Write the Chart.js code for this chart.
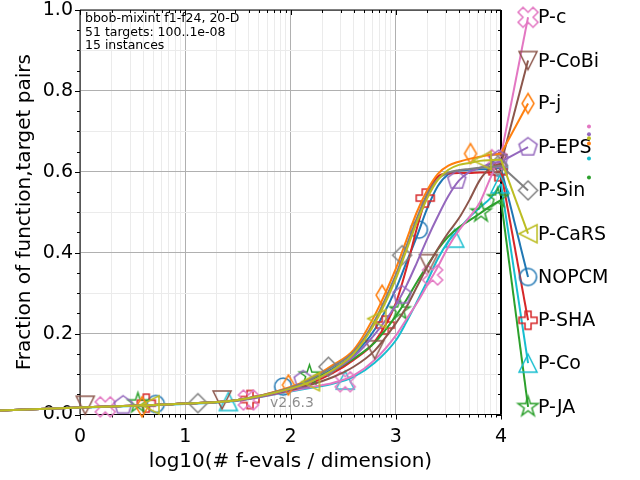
<!DOCTYPE html>
<html>
<head>
<meta charset="utf-8">
<script src="https://cdn.jsdelivr.net/npm/chart.js@4/dist/chart.umd.min.js"></script>
<style>
  html, body { margin: 0; padding: 0; background: #fff; }
</style>
</head>
<body>
<canvas id="ecdf" width="640" height="480"></canvas>
<script>
const fontFamily = "'DejaVu Sans', sans-serif";

// algorithms, in legend order (top to bottom)
const algNames = ['P-c', 'P-CoBi', 'P-j', 'P-EPS', 'P-Sin', 'P-CaRS', 'NOPCM', 'P-SHA', 'P-Co', 'P-JA'];
const algColors = ['#e377c2', '#8c564b', '#ff7f0e', '#9467bd', '#7f7f7f', '#bcbd22', '#1f77b4', '#d62728', '#17becf', '#2ca02c'];
const algMarkers = ['X', 'v', 'd', 'p', 'D', '<', 'o', 'P', '^', '*'];
// which one is painted on top (first = top)
const drawOrder = ['P-CaRS', 'P-Sin', 'P-EPS', 'P-j', 'P-CoBi', 'P-c', 'P-JA', 'P-Co', 'P-SHA', 'NOPCM'];

// ECDF curves: log10(# f-evals / dimension) vs fraction
const curveX = [-0.76, 0, 1, 1.5, 2, 2.2, 2.4, 2.6, 2.8, 3.0, 3.1, 3.2, 3.3, 3.4, 3.5, 3.6, 3.7, 3.8, 3.9, 4.0];
const yPc    = [0.010, 0.017, 0.027, 0.035, 0.058, 0.068, 0.078, 0.097, 0.135, 0.195, 0.235, 0.275, 0.320, 0.365, 0.415, 0.455, 0.488, 0.525, 0.585, 0.640];
const yCoBi  = [0.010, 0.017, 0.027, 0.035, 0.060, 0.074, 0.092, 0.118, 0.158, 0.225, 0.265, 0.315, 0.365, 0.410, 0.450, 0.485, 0.530, 0.580, 0.610, 0.620];
const yJ     = [0.010, 0.017, 0.027, 0.036, 0.068, 0.090, 0.122, 0.160, 0.245, 0.360, 0.430, 0.500, 0.555, 0.595, 0.615, 0.625, 0.632, 0.637, 0.642, 0.645];
const yEPS   = [0.010, 0.017, 0.027, 0.035, 0.063, 0.082, 0.108, 0.143, 0.198, 0.270, 0.318, 0.375, 0.435, 0.490, 0.540, 0.578, 0.600, 0.610, 0.620, 0.625];
const ySin   = [0.010, 0.017, 0.027, 0.036, 0.066, 0.088, 0.118, 0.155, 0.232, 0.345, 0.415, 0.485, 0.545, 0.582, 0.598, 0.604, 0.607, 0.610, 0.612, 0.615];
const yCaRS  = [0.010, 0.017, 0.027, 0.036, 0.064, 0.082, 0.110, 0.150, 0.225, 0.335, 0.405, 0.475, 0.535, 0.580, 0.605, 0.617, 0.622, 0.627, 0.629, 0.630];
const yNOPCM = [0.010, 0.017, 0.027, 0.036, 0.066, 0.085, 0.113, 0.148, 0.210, 0.310, 0.375, 0.440, 0.510, 0.565, 0.594, 0.603, 0.605, 0.606, 0.607, 0.610];
const ySHA   = [0.010, 0.017, 0.027, 0.036, 0.062, 0.078, 0.102, 0.135, 0.180, 0.275, 0.360, 0.460, 0.545, 0.588, 0.596, 0.597, 0.597, 0.598, 0.598, 0.600];
const yCo    = [0.010, 0.017, 0.026, 0.034, 0.057, 0.066, 0.076, 0.093, 0.128, 0.183, 0.228, 0.278, 0.330, 0.385, 0.428, 0.458, 0.488, 0.512, 0.535, 0.570];
const yJA    = [0.010, 0.017, 0.027, 0.036, 0.064, 0.088, 0.108, 0.138, 0.178, 0.243, 0.283, 0.327, 0.368, 0.408, 0.440, 0.463, 0.480, 0.497, 0.515, 0.530];
const curveY = [yPc, yCoBi, yJ, yEPS, ySin, yCaRS, yNOPCM, ySHA, yCo, yJA];

// marker positions along each curve
const markXPc    = [0.24, 1.60, 2.52, 3.35, 3.96];
const markYPc    = [0.019, 0.036, 0.081, 0.345, 0.630];
const markXCoBi  = [0.05, 1.35, 2.80, 3.31, 3.97];
const markYCoBi  = [0.023, 0.036, 0.160, 0.373, 0.620];
const markXJ     = [0.59, 1.98, 2.87, 3.71];
const markYJ     = [0.019, 0.073, 0.295, 0.645];
const markXEPS   = [0.41, 2.12, 3.06, 3.58, 3.98];
const markYEPS   = [0.023, 0.085, 0.295, 0.579, 0.630];
const markXSin   = [1.12, 2.36, 3.06, 3.97];
const markYSin   = [0.028, 0.118, 0.394, 0.615];
const markXCaRS  = [0.665, 2.19, 2.82, 3.82];
const markYCaRS  = [0.024, 0.081, 0.237, 0.628];
const markXNOPCM = [0.72, 1.93, 3.22, 3.98];
const markYNOPCM = [0.026, 0.069, 0.457, 0.610];
const markXSHA   = [0.63, 1.615, 2.90, 3.28, 3.97];
const markYSHA   = [0.028, 0.037, 0.221, 0.535, 0.600];
const markXCo    = [1.41, 2.52, 3.56, 3.99];
const markYCo    = [0.032, 0.085, 0.436, 0.570];
const markXJA    = [0.55, 2.18, 3.04, 3.81, 3.97];
const markYJA    = [0.028, 0.097, 0.258, 0.500, 0.535];
const markX = [markXPc, markXCoBi, markXJ, markXEPS, markXSin, markXCaRS, markXNOPCM, markXSHA, markXCo, markXJA];
const markY = [markYPc, markYCoBi, markYJ, markYEPS, markYSin, markYCaRS, markYNOPCM, markYSHA, markYCo, markYJA];

// legend entries to the right of the axes
const legendX = 4.257;
const legendY = [0.982, 0.875, 0.769, 0.661, 0.554, 0.447, 0.340, 0.233, 0.127, 0.019];

// small dots further right
const dotX = 4.836;
const dotColors = ['#e377c2', '#9467bd', '#bcbd22', '#ff7f0e', '#17becf', '#2ca02c'];
const dotY = [0.712, 0.693, 0.683, 0.670, 0.633, 0.586];

// ticks
const xMajor = [0, 1, 2, 3, 4];
const yTickVals = [];
for (let i = 0; i <= 20; i++) yTickVals.push(i / 20);
const xTickVals = [];
for (let n = 0; n < 4; n++) {
  for (let k = 1; k <= 9; k++) xTickVals.push(k === 1 ? n : n + Math.log10(k));
}
xTickVals.push(4);

const infoLines = ['bbob-mixint f1-f24, 20-D', '51 targets: 100..1e-08', '15 instances'];

function makeMarker(shape, color) {
  const sizes = { o: 17, v: 18, '^': 18, '<': 18, D: 19, d: 20, p: 19, '*': 21, P: 18, X: 20 };
  const r = sizes[shape] / 2;
  const S = Math.ceil(r * 2 + 6);
  const cv = document.createElement('canvas');
  cv.width = S; cv.height = S;
  const g = cv.getContext('2d');
  g.translate(S / 2, S / 2);
  g.strokeStyle = color;
  g.lineWidth = 1.5;
  g.lineJoin = 'miter';
  g.beginPath();
  const poly = pts => {
    pts.forEach(([px, py], i) => i ? g.lineTo(px * r, py * r) : g.moveTo(px * r, py * r));
    g.closePath();
  };
  const t = 1 / 3;
  const plus = [[-t, -1], [t, -1], [t, -t], [1, -t], [1, t], [t, t], [t, 1], [-t, 1], [-t, t], [-1, t], [-1, -t], [-t, -t]];
  switch (shape) {
    case 'o': g.arc(0, 0, r, 0, Math.PI * 2); break;
    case '^': poly([[0, -1], [1, 1], [-1, 1]]); break;
    case 'v': poly([[0, 1], [1, -1], [-1, -1]]); break;
    case '<': poly([[-1, 0], [1, -1], [1, 1]]); break;
    case 'D': poly([[0, -1], [1, 0], [0, 1], [-1, 0]]); break;
    case 'd': poly([[0, -1], [0.6, 0], [0, 1], [-0.6, 0]]); break;
    case 'P': poly(plus); break;
    case 'X': {
      const c = Math.SQRT1_2 / 0.943;
      poly(plus.map(([px, py]) => [(px - py) * c, (px + py) * c]));
      break;
    }
    case 'p': {
      const pts = [];
      for (let k = 0; k < 5; k++) {
        const a = -Math.PI / 2 + k * 2 * Math.PI / 5;
        pts.push([Math.cos(a), Math.sin(a)]);
      }
      poly(pts);
      break;
    }
    case '*': {
      const pts = [];
      for (let k = 0; k < 10; k++) {
        const a = -Math.PI / 2 + k * Math.PI / 5;
        const rr = k % 2 ? 0.382 : 1;
        pts.push([rr * Math.cos(a), rr * Math.sin(a)]);
      }
      poly(pts);
      break;
    }
  }
  g.stroke();
  return cv;
}

const markerImgs = algMarkers.map((m, i) => makeMarker(m, algColors[i]));

const datasets = [];
algNames.forEach((name, i) => {
  const order = drawOrder.indexOf(name);
  const color = algColors[i];
  datasets.push({
    label: name,
    data: curveX.map((x, j) => ({ x, y: curveY[i][j] })),
    showLine: true,
    borderColor: color,
    borderWidth: 2,
    pointRadius: 0,
    cubicInterpolationMode: 'monotone',
    clip: false,
    order: order * 3 + 1
  });
  datasets.push({
    label: name + ' markers',
    data: markX[i].map((x, j) => ({ x, y: markY[i][j] })),
    showLine: false,
    pointStyle: markerImgs[i],
    pointRadius: 9,
    clip: false,
    order: order * 3
  });
  datasets.push({
    label: name + ' legend',
    data: [{ x: 4, y: curveY[i][curveY[i].length - 1] }, { x: legendX, y: legendY[i] }],
    showLine: true,
    borderColor: color,
    borderWidth: 2,
    pointRadius: 0,
    clip: false,
    order: order * 3 + 2
  });
});

const decor = {
  id: 'decor',
  beforeDatasetsDraw(chart) {
    const { ctx, chartArea: a, scales: { x, y } } = chart;
    ctx.save();
    ctx.strokeStyle = '#000';
    ctx.lineWidth = 1;
    ctx.beginPath();
    ctx.moveTo(a.left, a.bottom); ctx.lineTo(a.left, a.top); ctx.lineTo(a.right, a.top);
    ctx.moveTo(a.left, a.bottom); ctx.lineTo(a.right, a.bottom);
    x.ticks.forEach(t => {
      const px = Math.round(x.getPixelForValue(t.value)) + 0.5;
      const len = xMajor.includes(t.value) ? 5 : 3;
      ctx.moveTo(px, a.bottom); ctx.lineTo(px, a.bottom + len);
      ctx.moveTo(px, a.top); ctx.lineTo(px, a.top + len);
    });
    y.ticks.forEach(t => {
      const py = Math.round(y.getPixelForValue(t.value)) + 0.5;
      const len = Math.round(t.value * 100) % 20 === 0 ? 5 : 3;
      ctx.moveTo(a.left - len, py); ctx.lineTo(a.left, py);
      ctx.moveTo(a.right - len, py); ctx.lineTo(a.right, py);
    });
    ctx.stroke();
    ctx.lineWidth = 2;
    ctx.beginPath();
    ctx.moveTo(a.right, a.top); ctx.lineTo(a.right, a.bottom);
    ctx.stroke();

    ctx.fillStyle = '#000';
    ctx.font = '12.5px ' + fontFamily;
    ctx.textBaseline = 'middle';
    ctx.textAlign = 'left';
    infoLines.forEach((s, k) => ctx.fillText(s, a.left + 5, 19 + k * 13.5));

    ctx.fillStyle = 'rgba(0,0,0,0.45)';
    ctx.font = '14px ' + fontFamily;
    ctx.fillText('v2.6.3', 270, 403);
    ctx.restore();
  },
  afterDatasetsDraw(chart) {
    const { ctx, scales: { x, y } } = chart;
    ctx.save();
    const lx = x.getPixelForValue(legendX);
    algNames.forEach((name, i) => {
      const ly = y.getPixelForValue(legendY[i]);
      const img = markerImgs[i];
      ctx.drawImage(img, lx - img.width / 2, ly - img.height / 2);
      ctx.fillStyle = '#000';
      ctx.font = '19px ' + fontFamily;
      ctx.textBaseline = 'middle';
      ctx.textAlign = 'left';
      ctx.fillText(name, lx + 10, ly + 1);
    });
    const dx = x.getPixelForValue(dotX);
    dotY.forEach((v, k) => {
      ctx.fillStyle = dotColors[k];
      ctx.beginPath();
      ctx.arc(dx, y.getPixelForValue(v), 2, 0, Math.PI * 2);
      ctx.fill();
    });
    ctx.restore();
  }
};

new Chart(document.getElementById('ecdf'), {
  type: 'scatter',
  data: { datasets },
  options: {
    responsive: false,
    animation: false,
    devicePixelRatio: 1,
    layout: { padding: { top: 9.5, right: 139, left: 0, bottom: 0 } },
    plugins: { legend: { display: false }, tooltip: { enabled: false } },
    scales: {
      x: {
        type: 'linear',
        afterDataLimits: s => { s.min = 0; s.max = 4; },
        afterBuildTicks: s => { s.ticks = xTickVals.map(v => ({ value: v })); },
        afterFit: s => { s.height = 65.5; s.paddingLeft = 0; s.paddingRight = 0; },
        border: { display: false },
        grid: {
          drawTicks: false,
          color: c => xMajor.includes(c.tick.value) ? '#b0b0b0' : '#ebebeb',
          lineWidth: 1
        },
        ticks: {
          autoSkip: false,
          maxRotation: 0,
          padding: 11,
          color: '#000',
          font: { family: fontFamily, size: 19 },
          callback: v => xMajor.includes(v) ? String(v) : ''
        },
        title: {
          display: true,
          text: 'log10(# f-evals / dimension)',
          color: '#000',
          font: { family: fontFamily, size: 20 },
          padding: { bottom: 6, top: 0 }
        }
      },
      y: {
        type: 'linear',
        afterDataLimits: s => { s.min = 0; s.max = 1; },
        afterBuildTicks: s => { s.ticks = yTickVals.map(v => ({ value: v })); },
        afterFit: s => { s.width = 80; s.paddingTop = 0; s.paddingBottom = 0; },
        border: { display: false },
        grid: {
          drawTicks: false,
          color: c => {
            const k = Math.round(c.tick.value * 100);
            if (k % 20 === 0) return '#b0b0b0';
            if (k % 10 === 0) return '#ebebeb';
            return 'rgba(0,0,0,0)';
          },
          lineWidth: 1
        },
        ticks: {
          autoSkip: false,
          padding: 7,
          color: '#000',
          font: { family: fontFamily, size: 19 },
          callback: v => Math.round(v * 100) % 20 === 0 ? v.toFixed(1) : ''
        },
        title: {
          display: true,
          text: 'Fraction of function,target pairs',
          color: '#000',
          font: { family: fontFamily, size: 20 },
          padding: { top: 13, bottom: 0 }
        }
      }
    }
  },
  plugins: [decor]
});
</script>
</body>
</html>
